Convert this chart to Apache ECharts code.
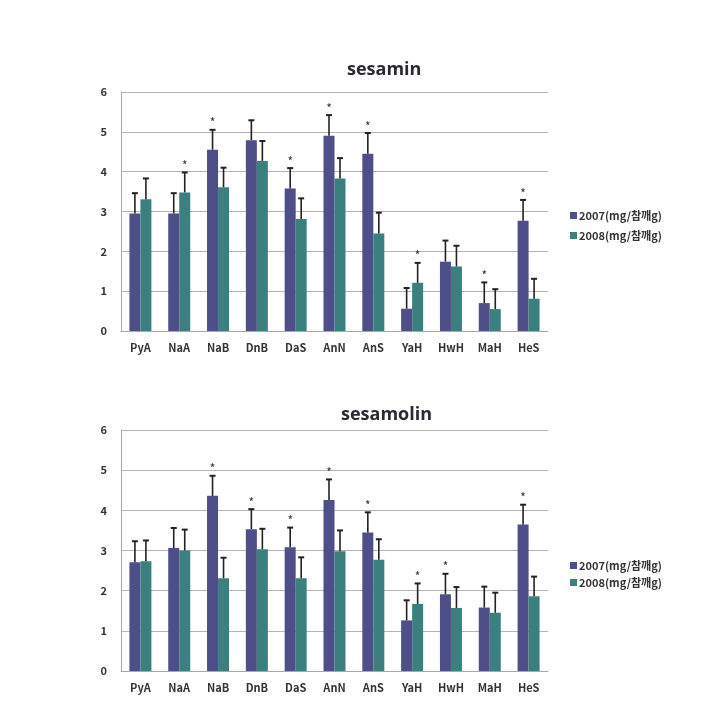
<!DOCTYPE html>
<html><head><meta charset="utf-8">
<script src="https://cdn.jsdelivr.net/npm/echarts@6/dist/echarts.min.js"></script>
<style>html,body{margin:0;padding:0;background:#fff}#c{width:721px;height:701px}</style>
</head><body><div id="c"></div>
<script>
const categories = ['PyA','NaA','NaB','DnB','DaS','AnN','AnS','YaH','HwH','MaH','HeS'];
const seriesNames = ['2007(mg/참깨g)','2008(mg/참깨g)'];
const yTicks = [0,1,2,3,4,5,6];

const sesamin2007 = [2.95,2.95,4.55,4.79,3.58,4.90,4.45,0.56,1.74,0.70,2.77];
const sesamin2007Err = [0.51,0.51,0.50,0.50,0.51,0.52,0.52,0.52,0.53,0.52,0.52];
const sesamin2008 = [3.31,3.48,3.61,4.27,2.81,3.83,2.45,1.21,1.62,0.55,0.81];
const sesamin2008Err = [0.52,0.50,0.49,0.50,0.52,0.51,0.52,0.50,0.52,0.50,0.50];
const sesaminStar2007 = [0,0,1,0,1,1,1,0,0,1,1];
const sesaminStar2008 = [0,1,0,0,0,0,0,1,0,0,0];

const sesamolin2007 = [2.71,3.06,4.36,3.53,3.08,4.26,3.45,1.26,1.91,1.58,3.65];
const sesamolin2007Err = [0.52,0.50,0.50,0.50,0.49,0.51,0.50,0.50,0.51,0.52,0.49];
const sesamolin2008 = [2.73,3.00,2.31,3.03,2.31,2.98,2.77,1.67,1.57,1.45,1.86];
const sesamolin2008Err = [0.52,0.52,0.51,0.51,0.52,0.52,0.51,0.51,0.52,0.50,0.49];
const sesamolinStar2007 = [0,0,1,1,1,1,1,0,1,0,1];
const sesamolinStar2008 = [0,0,0,0,0,0,0,1,0,0,0];

const C1 = '#4E4E88', C2 = '#3B807E';
const BW = 11;
const FONT = '"Noto Sans CJK KR","Noto Sans",sans-serif';
const TFONT = '"Open Sans","Noto Sans",sans-serif';

function errSeries(gi, vals, errs, stars, off){
  return {
    type:'custom', xAxisIndex:gi, yAxisIndex:gi, z:5, silent:true,
    data: vals.map((v,i)=>[i, v, v+errs[i], stars[i]]),
    renderItem:function(params, api){
      const x = api.value(0);
      const p0 = api.coord([x, api.value(1)]);
      const p1 = api.coord([x, api.value(2)]);
      const cx = p0[0] + off;
      const ch = [
        {type:'line', shape:{x1:cx,y1:p0[1],x2:cx,y2:p1[1]}, style:{stroke:'#222',lineWidth:1.6}},
        {type:'line', shape:{x1:cx-3,y1:p1[1],x2:cx+3,y2:p1[1]}, style:{stroke:'#222',lineWidth:2}}
      ];
      if (api.value(3)) ch.push({type:'text', style:{text:'*', x:cx, y:p1[1]-1, align:'center', verticalAlign:'bottom', fill:'#333', font:'12px '+FONT}});
      return {type:'group', children:ch};
    }
  };
}

const grids = [
  {left:121, top:92, width:427, height:239},
  {left:121, top:430, width:427, height:241}
];
const xAxes = grids.map((g,i)=>({
  type:'category', gridIndex:i, data:categories,
  axisLine:{lineStyle:{color:'#a8a8a8'}}, axisTick:{show:false},
  axisLabel:{color:'#333', fontWeight:'bold', fontSize:11, fontFamily:FONT, margin:11}
}));
const yAxes = grids.map((g,i)=>({
  type:'value', gridIndex:i, min:yTicks[0], max:yTicks[yTicks.length-1], interval:1,
  axisLine:{show:true, lineStyle:{color:'#a8a8a8'}}, axisTick:{show:false},
  splitLine:{lineStyle:{color:'#b4b4b4'}},
  axisLabel:{color:'#333', fontWeight:'bold', fontSize:11, fontFamily:FONT, margin:14}
}));

function barS(name, gi, data, color){
  return {name, type:'bar', xAxisIndex:gi, yAxisIndex:gi, data, barWidth:BW, barGap:'0%', itemStyle:{color}};
}

const option = {
  animation:false,
  backgroundColor:'#fff',
  title:[
    {text:'sesamin', left:342, top:56, textStyle:{fontSize:18, fontWeight:'bold', color:'#2a2a33', fontFamily:TFONT}},
    {text:'sesamolin', left:336, top:401, textStyle:{fontSize:18, fontWeight:'bold', color:'#2a2a33', fontFamily:TFONT}}
  ],
  legend:[
    {left:565, top:205, orient:'vertical', itemWidth:7, itemHeight:7, itemGap:9, icon:'rect',
     textStyle:{fontSize:11, fontWeight:'bold', color:'#333', fontFamily:FONT, padding:[0,0,0,-3]},
     data:seriesNames.map(n=>({name:n}))},
    {left:565, top:555, orient:'vertical', itemWidth:7, itemHeight:7, itemGap:6, icon:'rect',
     textStyle:{fontSize:11, fontWeight:'bold', color:'#333', fontFamily:FONT, padding:[0,0,0,-3]},
     data:seriesNames.map(n=>({name:n}))}
  ],
  grid:grids, xAxis:xAxes, yAxis:yAxes,
  series:[
    barS(seriesNames[0],0,sesamin2007,C1),
    barS(seriesNames[1],0,sesamin2008,C2),
    barS(seriesNames[0],1,sesamolin2007,C1),
    barS(seriesNames[1],1,sesamolin2008,C2),
    errSeries(0,sesamin2007,sesamin2007Err,sesaminStar2007,-BW/2),
    errSeries(0,sesamin2008,sesamin2008Err,sesaminStar2008,BW/2),
    errSeries(1,sesamolin2007,sesamolin2007Err,sesamolinStar2007,-BW/2),
    errSeries(1,sesamolin2008,sesamolin2008Err,sesamolinStar2008,BW/2)
  ]
};
echarts.init(document.getElementById('c'), null, {renderer:'canvas'}).setOption(option);
</script></body></html>
